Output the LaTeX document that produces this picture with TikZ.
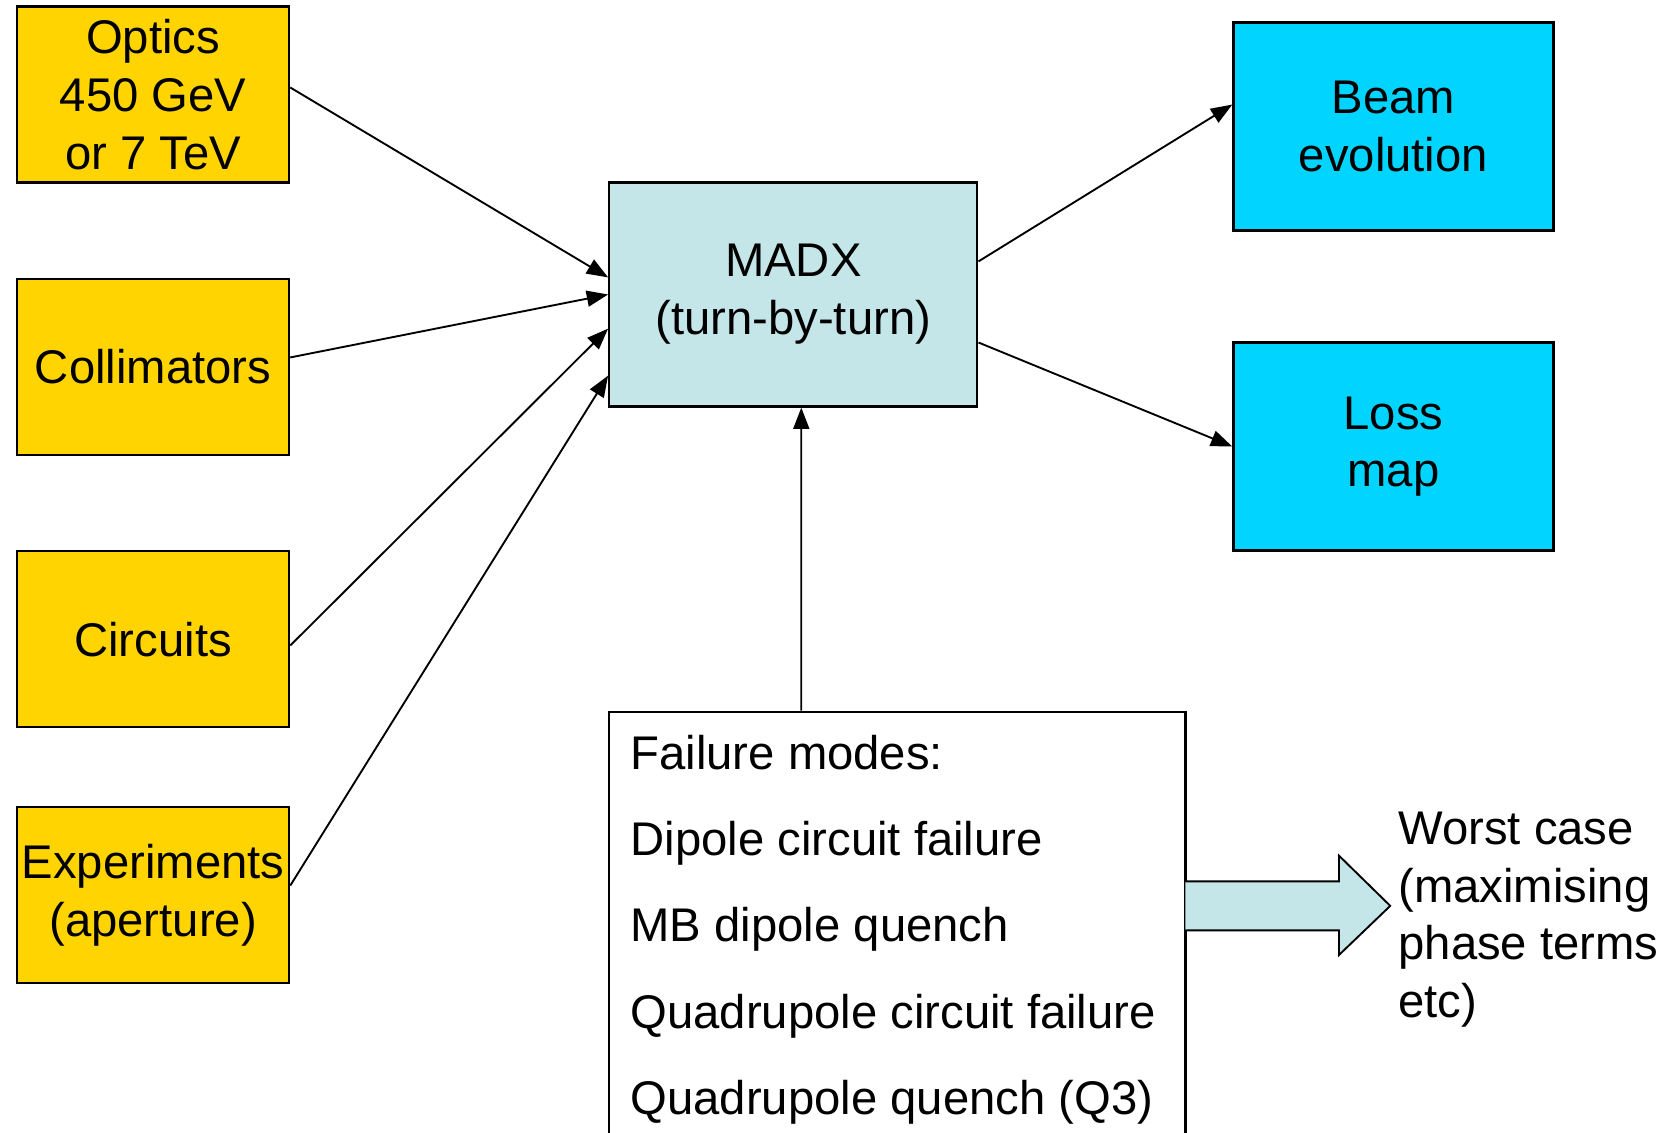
\documentclass[tikz,border=0pt]{standalone}
\usepackage{fontspec}
\setmainfont{Liberation Sans}
\usetikzlibrary{arrows.meta}
\definecolor{inputyellow}{HTML}{FFD400}
\definecolor{outputcyan}{HTML}{00D4FF}
\definecolor{madxblue}{HTML}{C4E6E8}
\begin{document}
\begin{tikzpicture}[x=0.1mm, y=-0.1mm,
		box/.style={draw, line width=0.6pt, align=center, inner sep=1pt, font=\fontsize{12.6pt}{15.4pt}\selectfont},
		inbox/.style={box, fill=inputyellow, minimum width=25.5mm, minimum height=16.5mm},
		outbox/.style={box, fill=outputcyan, minimum width=30mm, minimum height=19.5mm},
		feed/.style={-{Triangle[length=2mm, width=1.5mm]}, line width=0.5pt}]
		\useasboundingbox (0,0) rectangle (1568,1061);
		\clip (0,0) rectangle (1568,1061);

		\node[inbox] (optics) at (143.5,88.5) {Optics\\450 GeV\\or 7 TeV};
		\node[inbox] (collim) at (143.5,344) {Collimators};
		\node[inbox] (circuits) at (143.5,599) {Circuits};
		\node[inbox] (exper) at (143.5,839) {Experiments\\(aperture)};

		\node[box, fill=madxblue, minimum width=34.5mm, minimum height=21mm] (madx) at (743.5,276) {MADX\\(turn-by-turn)};

		\node[outbox] (beam) at (1306,118.5) {Beam\\evolution};
		\node[outbox] (loss) at (1306,418.5) {Loss\\map};

		\node[draw, line width=0.6pt, anchor=north, text width=50mm, inner xsep=2mm, inner ysep=2.2mm, align=flush left, font=\fontsize{12.6pt}{23pt}\selectfont] (fail) at (841,666) {Failure modes:\\Dipole circuit failure\\MB dipole quench\\Quadrupole circuit failure\\Quadrupole quench (Q3)};

		\node[anchor=west, inner sep=0pt, align=left, font=\fontsize{12.6pt}{15.4pt}\selectfont] (worst) at (1310,862) {Worst case\\(maximising\\phase terms\\etc)};
		\coordinate (tip) at (1303,849);

		\draw[feed] ([yshift=0.65mm]optics.east) -- ([yshift=1.6mm]madx.west);
		\draw[feed] ([yshift=0.9mm]collim.east) -- (madx.west);
		\draw[feed] ([yshift=-0.6mm]circuits.east) -- ([yshift=-3.2mm]madx.west);
		\draw[feed] ([yshift=0.9mm]exper.east) -- ([yshift=-7.6mm]madx.west);
		\draw[feed] ([yshift=3.1mm]madx.east) -- ([yshift=2.05mm]beam.west);
		\draw[feed] ([yshift=-4.5mm]madx.east) -- (loss.west);
		\draw[feed] ([xshift=-9mm]fail.north) -- ([xshift=0.75mm]madx.south);

		\fill[madxblue] (1111,826) -- (1255,826) -- (1255,802) -- (tip) -- (1255,895) -- (1255,872) -- (1111,872) -- cycle;
		\draw[line width=0.5pt] (1111,826) -- (1255,826) -- (1255,802) -- (tip) -- (1255,895) -- (1255,872) -- (1111,872);
	\end{tikzpicture}
\end{document}
